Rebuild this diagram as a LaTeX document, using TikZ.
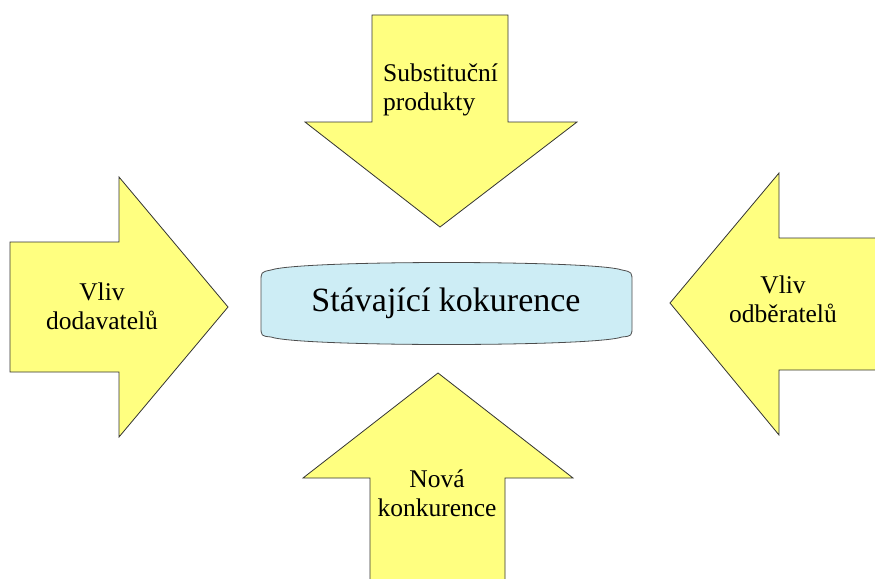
\documentclass[tikz,border=0pt]{standalone}
\usepackage{fontspec}
\setmainfont{Liberation Serif}

\definecolor{amarillo}{RGB}{255,255,128}
\definecolor{celeste}{RGB}{205,237,245}

\begin{document}
\begin{tikzpicture}[
		% Escala: 1 unidad = 1 pixel de la figura
		x=1pt, y=-1pt,
		% Estilos de las formas
		flecha_forma/.style={draw=black!80, fill=amarillo, line width=0.8pt, line join=miter},
		caja_central/.style={draw=black!70, fill=celeste, line width=0.8pt},
		% Estilos de texto
		texto_flecha/.style={font=\fontsize{25.5}{29}\selectfont, align=center, inner sep=0pt},
		texto_central/.style={font=\fontsize{34}{40}\selectfont, inner sep=0pt}
		]
		
		% --- MARCO ---
		\useasboundingbox (0,0) rectangle (875,578);
		\clip (0,0) rectangle (875,578);
		
		% --- FLECHAS EXTERIORES ---
		% Arriba (hacia abajo)
		\draw[flecha_forma] (372,15) -- (508,15) -- (508,122) -- (577,122) -- (440,227) -- (305,122) -- (372,122) -- cycle;
		% Izquierda (hacia la derecha)
		\draw[flecha_forma] (10,242) -- (119,242) -- (119,177) -- (228,307) -- (119,437) -- (119,372) -- (10,372) -- cycle;
		% Derecha (hacia la izquierda), cortada por el borde
		\draw[flecha_forma] (900,238) -- (779,238) -- (779,173) -- (670,303) -- (779,435) -- (779,370) -- (900,370) -- cycle;
		% Abajo (hacia arriba), cortada por el borde
		\draw[flecha_forma] (370,600) -- (370,478) -- (303,478) -- (438,373) -- (573,478) -- (505,478) -- (505,600) -- cycle;
		
		% --- CAJA CENTRAL ---
		\draw[caja_central] (271,270) .. controls (300,260) and (593,260) .. (622,270)
			.. controls (632,272) .. (632,282) -- (632,326) .. controls (632,336) .. (622,337)
			.. controls (593,347) and (300,347) .. (271,337) .. controls (261,336) .. (261,326)
			-- (261,282) .. controls (261,272) .. (271,270) -- cycle;
		
		% --- TEXTOS ---
		\node[texto_central] (rivalidad) at (446,303) {Stávající kokurence};
		\node[texto_flecha, align=left] (sustitutos) at (383,90) [anchor=west] {Substituční\\produkty};
		\node[texto_flecha] (proveedores) at (102,306) {Vliv\\dodavatelů};
		\node[texto_flecha] (clientes) at (783,299) {Vliv\\odběratelů};
		\node[texto_flecha] (nuevos) at (437,493) {Nová\\konkurence};
		
	\end{tikzpicture}
\end{document}
